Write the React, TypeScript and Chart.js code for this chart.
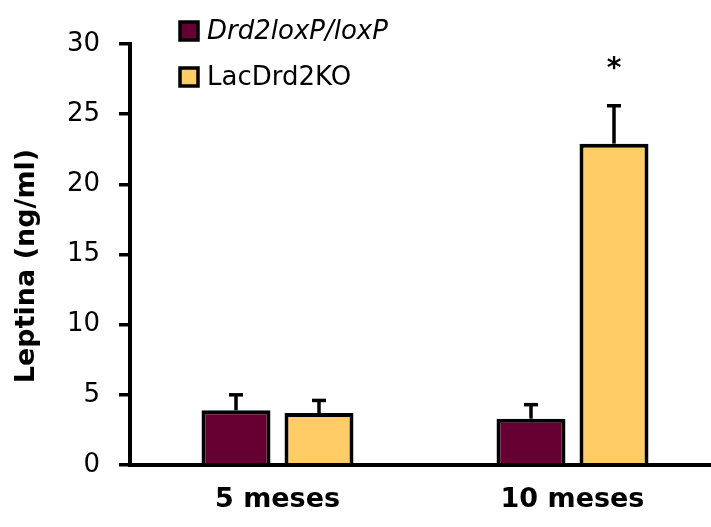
import React, { useEffect, useRef } from 'react';
import { Chart, registerables } from 'chart.js';

Chart.register(...registerables);

const categories = ['5 meses', '10 meses'];
const seriesNames = ['Drd2loxP/loxP', 'LacDrd2KO'];
const seriesItalic = [true, false];
const seriesColors = ['#660033', '#FFCC66'];
const controlValues = [3.9, 3.3];
const koValues = [3.7, 22.9];
const controlErrors = [1.1, 1.0];
const koErrors = [0.9, 2.7];
const koMarks = ['', '*'];
const yTicks = [0, 5, 10, 15, 20, 25, 30];
const yTitle = 'Leptina (ng/ml)';

const FONT = '"DejaVu Sans", sans-serif';

const errors = [controlErrors, koErrors];
const marks = [['', ''], koMarks];

const extrasPlugin = {
  id: 'extras',
  afterDatasetsDraw(chart: any) {
    const ctx = chart.ctx;
    const yScale = chart.scales.y;
    ctx.save();
    ctx.strokeStyle = '#000';
    ctx.lineWidth = 3.5;
    chart.data.datasets.forEach((ds: any, i: number) => {
      const meta = chart.getDatasetMeta(i);
      meta.data.forEach((el: any, j: number) => {
        const v = ds.data[j];
        const e = errors[i][j];
        const yTop = yScale.getPixelForValue(v + e);
        ctx.beginPath();
        ctx.moveTo(el.x, el.y);
        ctx.lineTo(el.x, yTop);
        ctx.stroke();
        ctx.beginPath();
        ctx.moveTo(el.x - 7, yTop);
        ctx.lineTo(el.x + 7, yTop);
        ctx.stroke();
        const m = marks[i][j];
        if (m) {
          ctx.fillStyle = '#000';
          ctx.font = `bold 28px ${FONT}`;
          ctx.textAlign = 'center';
          ctx.textBaseline = 'middle';
          ctx.fillText(m, el.x, yTop - 36);
        }
      });
    });
    ctx.restore();
  },
  afterDraw(chart: any) {
    const ctx = chart.ctx;
    ctx.save();
    // legend
    seriesNames.forEach((name, i) => {
      const cy = 31 + i * 46;
      ctx.fillStyle = seriesColors[i];
      ctx.fillRect(180, cy - 9, 18, 18);
      ctx.strokeStyle = '#000';
      ctx.lineWidth = 3.5;
      ctx.strokeRect(180, cy - 9, 18, 18);
      ctx.fillStyle = '#000';
      ctx.font = `${seriesItalic[i] ? 'italic ' : ''}26px ${FONT}`;
      ctx.textAlign = 'left';
      ctx.textBaseline = 'middle';
      ctx.fillText(name, 207, cy + 1);
    });
    // y title
    ctx.translate(27, 266);
    ctx.rotate(-Math.PI / 2);
    ctx.font = `bold 27px ${FONT}`;
    ctx.textAlign = 'center';
    ctx.textBaseline = 'middle';
    ctx.fillStyle = '#000';
    ctx.fillText(yTitle, 0, 0);
    ctx.restore();
  },
};

export default function App() {
  const ref = useRef<HTMLCanvasElement | null>(null);
  useEffect(() => {
    if (!ref.current) return;
    const chart = new Chart(ref.current, {
      type: 'bar',
      data: {
        labels: categories,
        datasets: [
          {
            label: seriesNames[0],
            data: controlValues,
            backgroundColor: seriesColors[0],
            borderColor: '#000',
            borderWidth: 4,
            borderSkipped: 'bottom',
          },
          {
            label: seriesNames[1],
            data: koValues,
            backgroundColor: seriesColors[1],
            borderColor: '#000',
            borderWidth: 4,
            borderSkipped: 'bottom',
          },
        ],
      },
      options: {
        responsive: false,
        animation: false,
        devicePixelRatio: 1,
        categoryPercentage: 0.5627,
        barPercentage: 0.831,
        layout: { padding: { top: 44, right: 10, bottom: 0, left: 0 } },
        plugins: {
          legend: { display: false },
          tooltip: { enabled: false },
        },
        scales: {
          x: {
            grid: { display: false, drawTicks: false },
            border: { display: true, color: '#000', width: 4, z: 1 },
            ticks: {
              color: '#000',
              padding: 19,
              font: { family: FONT, size: 27, weight: 'bold' },
            },
            afterFit: (scale: any) => {
              scale.height = 62;
            },
          },
          y: {
            min: 0,
            max: 30,
            afterBuildTicks: (scale: any) => {
              scale.ticks = yTicks.map((v) => ({ value: v }));
            },
            grid: {
              drawOnChartArea: false,
              drawTicks: true,
              tickLength: 11,
              color: '#000',
              lineWidth: 3.5,
            },
            border: { display: true, color: '#000', width: 4 },
            ticks: {
              color: '#000',
              padding: 19,
              font: { family: FONT, size: 26 },
            },
            afterFit: (scale: any) => {
              scale.width = 130;
            },
          },
        },
      } as any,
      plugins: [extrasPlugin],
    });
    return () => chart.destroy();
  }, []);
  return (
    <div
      style={{
        position: 'absolute',
        left: 0,
        top: 0,
        width: 711,
        height: 527,
        overflow: 'hidden',
        background: '#fff',
      }}
    >
      <canvas ref={ref} width={730} height={527} style={{ width: 730, height: 527, display: 'block' }} />
    </div>
  );
}
